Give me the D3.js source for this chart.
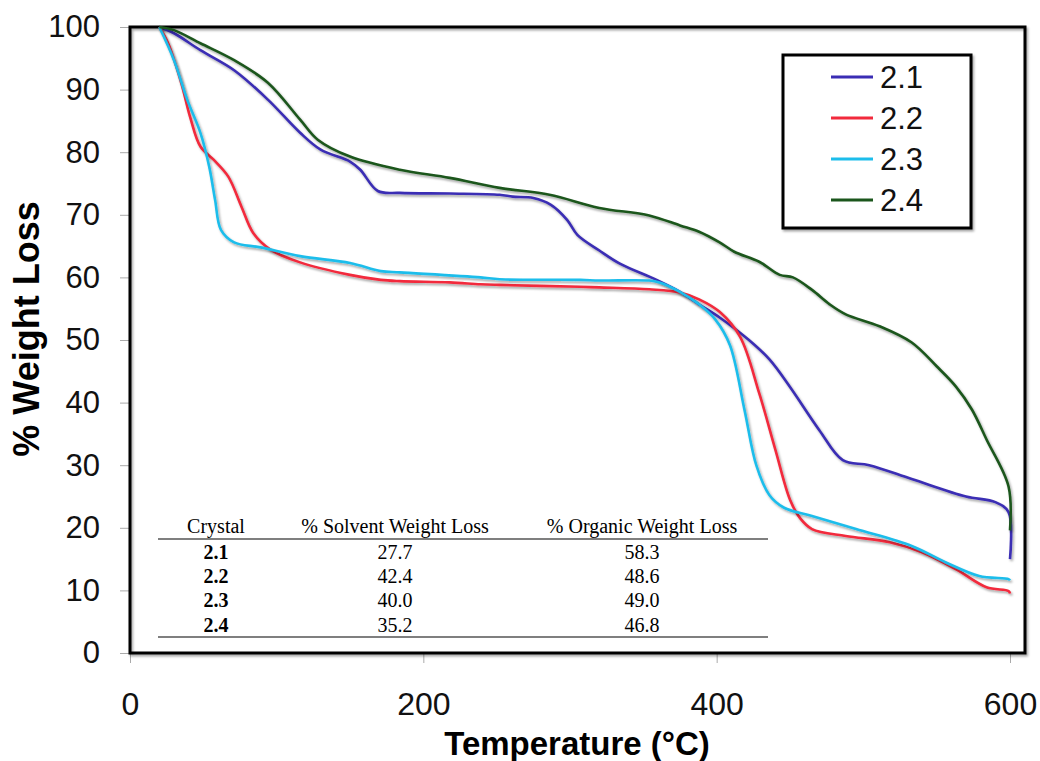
<!DOCTYPE html>
<html>
<head>
<meta charset="utf-8">
<script src="https://cdn.jsdelivr.net/npm/d3@7"></script>
<style>
  body { margin: 0; background: #fff; }
  svg { display: block; }
</style>
</head>
<body>
<svg width="1040" height="761"></svg>
<script>
// Data
const temp21 = [20, 30, 48, 71, 94, 116, 130, 150, 157, 169, 184, 218, 252, 261, 275, 287, 298, 305, 320, 334, 359, 375, 388, 402, 422, 436, 450, 470, 486, 504, 533, 570, 590, 599, 600]
const wt21 = [100, 99, 96.3, 93.1, 88.4, 83.1, 80.4, 78.5, 77.2, 73.8, 73.5, 73.4, 73.2, 72.9, 72.7, 71.6, 69.2, 66.8, 64.3, 62.2, 59.6, 57.7, 55.7, 53.6, 50, 46.9, 42.5, 35.6, 30.8, 30, 27.8, 25, 24.1, 22.5, 15]

const temp22 = [20, 26, 35, 41, 48, 57, 67, 76, 84, 96, 116, 150, 171, 184, 218, 239, 252, 307, 320, 354, 375, 388, 402, 416, 429, 440, 450, 457, 465, 488, 518, 540, 563, 584, 599, 600]
const wt22 = [100, 97.4, 91, 85.6, 80.9, 78.8, 76.1, 71.3, 67.1, 64.4, 62.4, 60.4, 59.6, 59.4, 59.2, 58.9, 58.8, 58.5, 58.4, 58.1, 57.6, 56.5, 54.5, 50.5, 41.5, 32.5, 24.5, 21.5, 19.8, 18.7, 17.7, 16.1, 13.4, 10.5, 9.9, 9.5]

const temp23 = [20, 30, 39, 48, 54, 58, 62, 71, 89, 116, 150, 171, 184, 239, 252, 307, 320, 354, 361, 375, 388, 399, 409, 419, 427, 436, 446, 465, 495, 533, 556, 579, 599, 600]
const wt23 = [100, 94.7, 88.4, 83.1, 77.7, 72.4, 67.6, 65.6, 64.8, 63.4, 62.3, 61, 60.8, 60, 59.7, 59.6, 59.5, 59.5, 59.2, 57.7, 55.7, 53.3, 49.2, 38.8, 30, 25.2, 23.2, 21.9, 19.8, 17.1, 14.5, 12.3, 11.8, 11.6]

const temp24 = [20, 30, 48, 71, 94, 116, 128, 150, 184, 218, 252, 286, 320, 354, 375, 388, 402, 412, 429, 443, 452, 465, 477, 488, 511, 533, 550, 563, 574, 584, 599, 600]
const wt24 = [100, 99.5, 97.4, 94.7, 91.1, 85.2, 82, 79.3, 77.2, 75.9, 74.3, 73.2, 71.1, 69.9, 68.3, 67.3, 65.6, 64.1, 62.5, 60.4, 60, 58, 55.7, 54.1, 52.2, 49.6, 45.8, 42.6, 38.9, 34.1, 26.6, 19.6]

const seriesNames = ['2.1', '2.2', '2.3', '2.4']
const seriesColors = ['#3a2db4', '#f22a3c', '#1cbdeb', '#1b561c']

const xTicks = [0, 200, 400, 600]
const yTicks = [0, 10, 20, 30, 40, 50, 60, 70, 80, 90, 100]

// table in the plot
const tableHeaders = ['Crystal', '% Solvent Weight Loss', '% Organic Weight Loss']
const crystals = ['2.1', '2.2', '2.3', '2.4']
const solventLoss = ['27.7', '42.4', '40.0', '35.2']
const organicLoss = ['58.3', '48.6', '49.0', '46.8']

// Set up
const svg = d3.select('svg')
const frame = { left: 130, right: 1025, top: 27, bottom: 653 }

const x = d3.scaleLinear().domain([0, 600]).range([130, 1010])
const y = d3.scaleLinear().domain([0, 100]).range([frame.bottom, frame.top])

const defs = svg.append('defs')
defs.append('filter')
    .attr('id', 'shadow')
    .attr('x', '-5%').attr('y', '-5%')
    .attr('width', '110%').attr('height', '110%')
    .append('feDropShadow')
    .attr('dx', 1.5).attr('dy', 2)
    .attr('stdDeviation', 1.2)
    .attr('flood-color', '#000')
    .attr('flood-opacity', 0.35)

// axes
const yAxis = svg.append('g')
    .attr('transform', `translate(${frame.left},0)`)
    .call(d3.axisLeft(y).tickValues(yTicks).tickSize(10).tickPadding(20))
yAxis.select('.domain').remove()
yAxis.selectAll('line').attr('stroke', '#aaa')
yAxis.selectAll('text')
    .attr('font-family', '"Liberation Sans", Arial, sans-serif')
    .attr('font-size', 31)
    .attr('fill', '#111')

const xAxis = svg.append('g')
    .attr('transform', `translate(0,${frame.bottom})`)
    .call(d3.axisBottom(x).tickValues(xTicks).tickSize(10).tickPadding(29))
xAxis.select('.domain').remove()
xAxis.selectAll('line').attr('stroke', '#aaa')
xAxis.selectAll('text')
    .attr('font-family', '"Liberation Sans", Arial, sans-serif')
    .attr('font-size', 32)
    .attr('fill', '#111')

// frame
svg.append('rect')
    .attr('x', frame.left).attr('y', frame.top)
    .attr('width', frame.right - frame.left)
    .attr('height', frame.bottom - frame.top)
    .attr('fill', 'none')
    .attr('stroke', '#000')
    .attr('stroke-width', 3)
    .attr('filter', 'url(#shadow)')

// titles
svg.append('text')
    .attr('transform', 'translate(39,329) rotate(-90)')
    .attr('text-anchor', 'middle')
    .attr('font-family', '"Liberation Sans", Arial, sans-serif')
    .attr('font-weight', 'bold')
    .attr('font-size', 36)
    .text('% Weight Loss')

svg.append('text')
    .attr('x', 577).attr('y', 755)
    .attr('text-anchor', 'middle')
    .attr('font-family', '"Liberation Sans", Arial, sans-serif')
    .attr('font-weight', 'bold')
    .attr('font-size', 33)
    .text('Temperature (°C)')

// table
const colX = [216, 395, 642]
const tbl = svg.append('g')
    .attr('font-family', '"Liberation Serif", "Times New Roman", serif')
    .attr('font-size', 20)
    .attr('text-anchor', 'middle')

tbl.selectAll('text.head')
    .data(tableHeaders)
    .join('text')
    .attr('class', 'head')
    .attr('x', (d, i) => colX[i])
    .attr('y', 533)
    .text(d => d)

tbl.append('line')
    .attr('x1', 158).attr('x2', 768)
    .attr('y1', 539).attr('y2', 539)
    .attr('stroke', '#555').attr('stroke-width', 1.5)
tbl.append('line')
    .attr('x1', 158).attr('x2', 768)
    .attr('y1', 637).attr('y2', 637)
    .attr('stroke', '#555').attr('stroke-width', 1.5)

const rowY = i => 559 + i * 24.2
tbl.selectAll('text.c1')
    .data(crystals)
    .join('text')
    .attr('class', 'c1')
    .attr('x', colX[0])
    .attr('y', (d, i) => rowY(i))
    .attr('font-weight', 'bold')
    .text(d => d)
tbl.selectAll('text.c2')
    .data(solventLoss)
    .join('text')
    .attr('class', 'c2')
    .attr('x', colX[1])
    .attr('y', (d, i) => rowY(i))
    .text(d => d)
tbl.selectAll('text.c3')
    .data(organicLoss)
    .join('text')
    .attr('class', 'c3')
    .attr('x', colX[2])
    .attr('y', (d, i) => rowY(i))
    .text(d => d)

// curves
const series = [
    d3.zip(temp21, wt21),
    d3.zip(temp22, wt22),
    d3.zip(temp23, wt23),
    d3.zip(temp24, wt24)
]
const line = d3.line()
    .x(d => x(d[0]))
    .y(d => y(d[1]))
    .curve(d3.curveCatmullRom.alpha(0.5))

svg.append('g')
    .selectAll('path')
    .data(series)
    .join('path')
    .attr('d', line)
    .attr('fill', 'none')
    .attr('stroke', (d, i) => seriesColors[i])
    .attr('stroke-width', 2.6)
    .attr('stroke-linejoin', 'round')
    .attr('filter', 'url(#shadow)')

// legend
const legend = svg.append('g')
legend.append('rect')
    .attr('x', 783).attr('y', 55)
    .attr('width', 188).attr('height', 173)
    .attr('fill', '#fff')
    .attr('stroke', '#000')
    .attr('stroke-width', 3)
    .attr('filter', 'url(#shadow)')

const items = legend.selectAll('g.item')
    .data(seriesNames)
    .join('g')
    .attr('class', 'item')
    .attr('transform', (d, i) => `translate(0,${77 + i * 41})`)
items.append('line')
    .attr('x1', 831).attr('x2', 873)
    .attr('stroke', (d, i) => seriesColors[i])
    .attr('stroke-width', 3)
items.append('text')
    .attr('x', 880)
    .attr('dy', '0.35em')
    .attr('font-family', '"Liberation Sans", Arial, sans-serif')
    .attr('font-size', 31)
    .attr('fill', '#111')
    .text(d => d)
</script>
</body>
</html>
